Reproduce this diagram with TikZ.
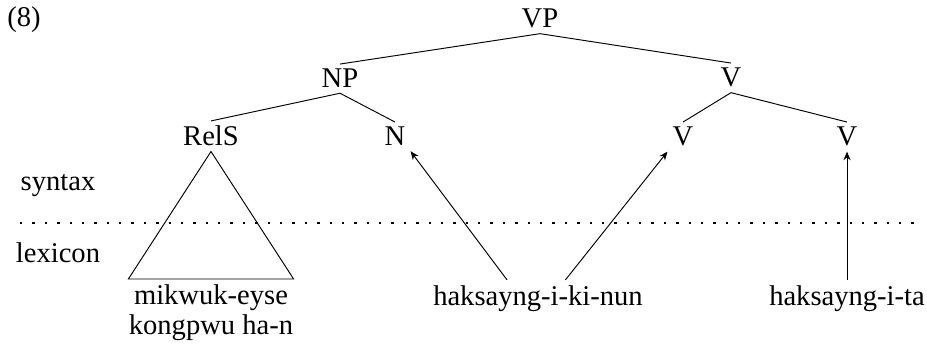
\documentclass[tikz,border=0pt]{standalone}
\usepackage{fontspec}
\setmainfont{Liberation Serif}
\usetikzlibrary{arrows.meta}

\tikzset{
  cat/.style={anchor=base, inner sep=2pt},
  branch/.style={line width=0.4pt},
  lift/.style={line width=0.4pt, -{Stealth[length=3.6pt, width=3pt]}},
  divider/.style={line width=1pt, dash pattern=on 1pt off 4.2pt}
}

\begin{document}
\begin{tikzpicture}[x=0.42pt, y=-0.42pt, font=\fontsize{12}{12.6}\selectfont]
        \useasboundingbox (0,0) rectangle (927,349);

        % Number
        \node[cat] (num) at (24,27) {(8)};

        % Tree
        \node[cat] (vp) at (540,28) {VP};
        \node[cat] (np) at (340,88) {NP};
        \node[cat] (vbar) at (731,87) {V};
        \node[cat] (rels) at (211,146) {RelS};
        \node[cat] (n) at (395,146) {N};
        \node[cat] (vleft) at (683,146) {V};
        \node[cat] (vright) at (847,146) {V};

        \draw[branch] (vp.south) -- (np.north);
        \draw[branch] (vp.south) -- (vbar.north);
        \draw[branch] (np.south) -- (rels.north);
        \draw[branch] (np.south) -- (n.north);
        \draw[branch] (vbar.south) -- (vleft.north);
        \draw[branch] (vbar.south) -- (vright.north);

        % Levels
        \node[cat] (syn) at (58,190) {syntax};
        \node[cat] (lex) at (58,262) {lexicon};
        \coordinate (lineL) at (20,223);
        \coordinate (lineR) at (920,223);
        \draw[divider] (lineL) -- (lineR);

        % Lexical items
        \node[anchor=north, inner xsep=0pt, inner ysep=2pt, align=center] (mik) at (211,279) {mikwuk-eyse\\kongpwu ha-n};
        \node[cat] (hak) at (538,305) {haksayng-i-ki-nun};
        \node[cat] (hakta) at (847,305) {haksayng-i-ta};

        % Triangle
        \draw[branch] (rels.south) -- (mik.north west) -- (mik.north east) -- cycle;

        % Arrows
        \draw[lift] ([xshift=-13pt]hak.north) -- (n.south east);
        \draw[lift] ([xshift=11.5pt]hak.north) -- (vleft.south west);
        \draw[lift] (hakta.north) -- (vright.south);
    \end{tikzpicture}
\end{document}
